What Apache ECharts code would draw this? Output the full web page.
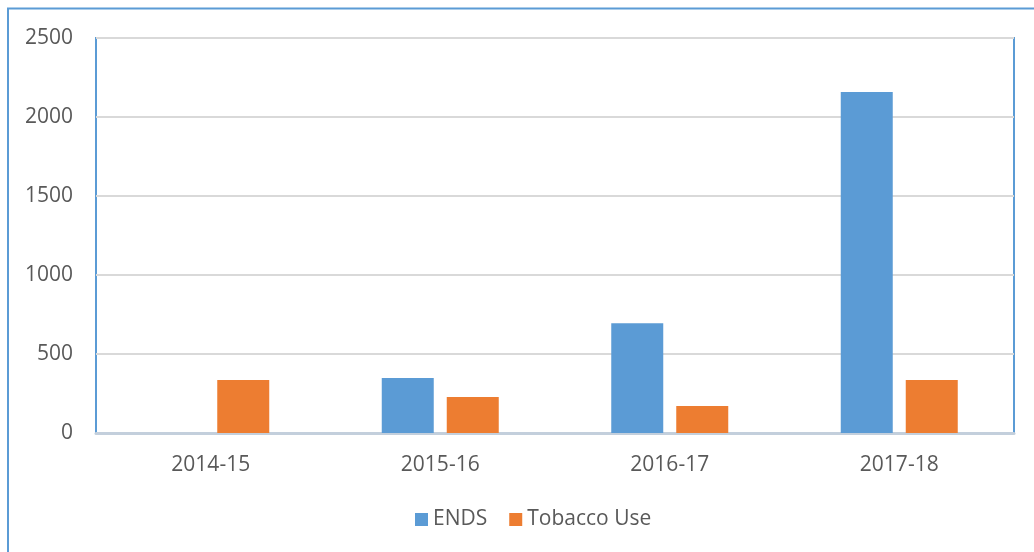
<!DOCTYPE html>
<html>
<head>
<meta charset="utf-8">
<script src="https://cdn.jsdelivr.net/npm/echarts@6/dist/echarts.min.js"></script>
<style>
html,body{margin:0;padding:0;background:#fff;}
#chart{width:1034px;height:552px;}
</style>
</head>
<body>
<div id="chart"></div>
<script>
const categories = ['2014-15', '2015-16', '2016-17', '2017-18'];
const endsValues = [0, 348, 695, 2158];
const tobaccoValues = [335, 228, 171, 335];
const seriesNames = ['ENDS', 'Tobacco Use'];
const yTicks = { min: 0, max: 2500, interval: 500 };

const chart = echarts.init(document.getElementById('chart'), null, { renderer: 'canvas' });
const font = '"Open Sans", "Liberation Sans", sans-serif';
chart.setOption({
  animation: false,
  backgroundColor: '#ffffff',
  color: ['#5B9BD5', '#ED7D31'],
  graphic: [{
    type: 'rect',
    shape: { x: 8, y: 8.5, width: 1100, height: 600 },
    style: { fill: 'none', stroke: '#5B9BD5', lineWidth: 2 },
    silent: true
  }],
  grid: {
    left: 96, top: 38, right: 20, bottom: 119,
    show: true, borderColor: '#5B9BD5', borderWidth: 2, backgroundColor: 'transparent'
  },
  legend: {
    data: seriesNames,
    left: 410, top: 504,
    itemWidth: 13, itemHeight: 13, itemGap: 22,
    icon: 'rect',
    textStyle: { fontFamily: font, fontSize: 21, color: '#595959' }
  },
  xAxis: {
    type: 'category',
    data: categories,
    axisTick: { show: false },
    axisLine: { lineStyle: { color: '#C3CFDC', width: 3 } },
    axisLabel: { fontFamily: font, fontSize: 21, color: '#595959', margin: 22 }
  },
  yAxis: {
    type: 'value',
    min: yTicks.min, max: yTicks.max, interval: yTicks.interval,
    axisLine: { show: false },
    axisTick: { show: false },
    splitLine: { lineStyle: { color: '#D9D9D9', width: 2 } },
    axisLabel: { fontFamily: font, fontSize: 21, color: '#595959', margin: 23,
      formatter: function (v) { return String(v); } }
  },
  series: [
    { name: seriesNames[0], type: 'bar', data: endsValues, barWidth: 52, barGap: '25%',
      itemStyle: { color: '#5B9BD5' } },
    { name: seriesNames[1], type: 'bar', data: tobaccoValues, barWidth: 52, barGap: '25%',
      itemStyle: { color: '#ED7D31' } }
  ]
});
</script>
</body>
</html>
